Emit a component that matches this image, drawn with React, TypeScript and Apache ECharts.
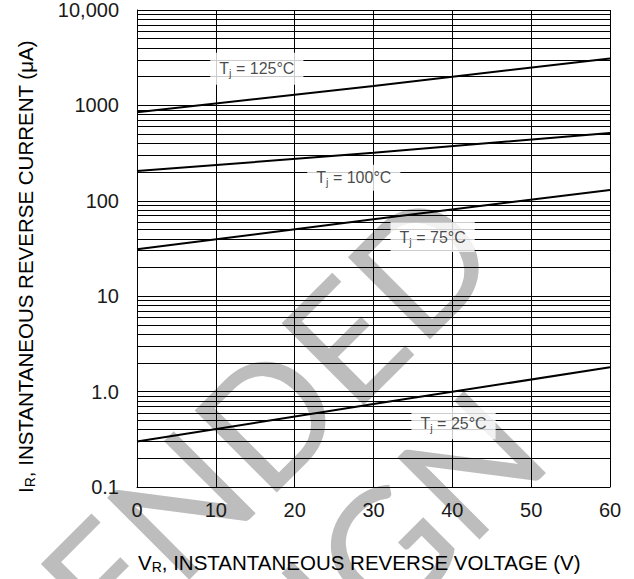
import React, { useEffect, useRef } from 'react';
import * as echarts from 'echarts';

// Reverse voltage (V) sample points
const xValues = [0, 30, 60];
// Instantaneous reverse current (µA) per junction temperature
const tj125 = [850, 1600, 3100];
const tj100 = [205, 318, 515];
const tj75 = [31, 64, 130];
const tj25 = [0.3, 0.74, 1.8];

const yTickLabels = ['0.1', '1.0', '10', '100', '1000', '10,000'];

const minorGridValues = [
  0.2, 0.3, 0.4, 0.5, 0.6, 0.7, 0.8, 0.9,
  2, 3, 4, 5, 6, 7, 8, 9,
  20, 30, 40, 50, 60, 70, 80, 90,
  200, 300, 400, 500, 600, 700, 800, 900,
  2000, 3000, 4000, 5000, 6000, 7000, 8000, 9000,
];

const curveLabelNames = ['125°C', '100°C', '75°C', '25°C'];
const curveLabelX = [15.2, 27.5, 37.5, 40.15];
const curveLabelY = [2420, 174, 41.7, 0.466];

export default function App() {
  const ref = useRef<HTMLDivElement>(null);

  useEffect(() => {
    document.body.style.margin = '0';
    const chart = echarts.init(ref.current!, null, { renderer: 'svg' });
    const font = "'Liberation Sans', Arial, Helvetica, sans-serif";
    const txt = '#1a1a1a';
    const mk = (vals: number[]) => xValues.map((x, i) => [x, vals[i]]);
    const lineSeries = (name: string, vals: number[], extra: any = {}) => ({
      type: 'line',
      name,
      data: mk(vals),
      symbol: 'none',
      showSymbol: false,
      silent: true,
      z: 3,
      lineStyle: { color: '#000', width: 2 },
      ...extra,
    });
    const labelPads = [
      [6, 9],
      [3, 9],
      [5, 9],
      [6, 9],
    ];

    const titleRich = {
      m: { fontFamily: font, fontSize: 20.5, color: txt, lineHeight: 24 },
      s: { fontFamily: font, fontSize: 14, color: txt, verticalAlign: 'bottom', lineHeight: 14 },
    };

    const wmStyle = {
      fontSize: 162,
      fontFamily: "Lato, 'Liberation Sans', sans-serif",
      fontWeight: 400,
      fill: '#bdbdbd',
      align: 'right',
      textAlign: 'right',
      verticalAlign: 'middle',
      textVerticalAlign: 'middle',
    };

    const option: any = {
      animation: false,
      backgroundColor: '#fff',
      grid: { left: 137, right: 24, top: 8, bottom: 92 },
      xAxis: {
        type: 'value',
        min: 0,
        max: 60,
        interval: 10,
        axisLine: { show: true, lineStyle: { color: '#000', width: 1 } },
        axisTick: { show: false },
        splitLine: { show: true, lineStyle: { color: '#000', width: 1 } },
        axisLabel: { fontFamily: font, fontSize: 20, color: txt, margin: 13 },
      },
      yAxis: {
        type: 'log',
        logBase: 10,
        min: 0.1,
        max: 10000,
        axisLine: { show: true, lineStyle: { color: '#000', width: 1 } },
        axisTick: { show: false },
        splitLine: { show: true, lineStyle: { color: '#000', width: 1 } },
        axisLabel: {
          fontFamily: font,
          fontSize: 20,
          color: txt,
          margin: 18,
          padding: [8, 0, 0, 0],
          formatter: (v: number) => yTickLabels[Math.round(Math.log10(v)) + 1] ?? '',
        },
      },
      graphic: [
        {
          type: 'text',
          z: -1,
          x: 462,
          y: 218,
          rotation: Math.PI / 4,
          silent: true,
          style: { ...wmStyle, text: 'NOT RECOMMENDED' },
        },
        {
          type: 'text',
          z: -1,
          x: 512,
          y: 418,
          rotation: Math.PI / 4,
          silent: true,
          style: { ...wmStyle, text: 'FOR NEW DESIGN' },
        },
        {
          type: 'text',
          z: 20,
          x: 138,
          y: 562,
          style: {
            text: '{m|V}{s|R}{m|, INSTANTANEOUS REVERSE VOLTAGE (V)}',
            rich: titleRich,
            fontFamily: font,
            fontSize: 20.5,
            align: 'left',
            textAlign: 'left',
            verticalAlign: 'middle',
            textVerticalAlign: 'middle',
          },
        },
        {
          type: 'text',
          z: 20,
          x: 25,
          y: 493,
          rotation: Math.PI / 2,
          style: {
            text: '{m|I}{s|R}{m|, INSTANTANEOUS REVERSE CURRENT (μA)}',
            rich: titleRich,
            fontFamily: font,
            fontSize: 20.5,
            align: 'left',
            textAlign: 'left',
            verticalAlign: 'middle',
            textVerticalAlign: 'middle',
          },
        },
      ],
      series: [
        lineSeries('Tj = 25°C', tj25, {
          markLine: {
            silent: true,
            animation: false,
            symbol: ['none', 'none'],
            label: { show: false },
            lineStyle: { color: '#000', width: 1, type: 'solid' },
            emphasis: { disabled: true },
            data: minorGridValues.map((v) => ({ yAxis: v })),
          },
        }),
        lineSeries('Tj = 75°C', tj75),
        lineSeries('Tj = 100°C', tj100),
        lineSeries('Tj = 125°C', tj125),
        {
          type: 'scatter',
          silent: true,
          z: 10,
          symbolSize: 1,
          itemStyle: { color: 'rgba(0,0,0,0)' },
          data: curveLabelNames.map((n, i) => ({
            name: n,
            value: [curveLabelX[i], curveLabelY[i]],
            label: { padding: labelPads[i] },
          })),
          label: {
            show: true,
            position: 'inside',
            backgroundColor: '#fff',
            formatter: (p: any) => `{m|T}{s|j}{m| = ${p.name}}`,
            rich: {
              m: { fontFamily: font, fontSize: 16, color: txt, lineHeight: 20 },
              s: { fontFamily: font, fontSize: 11, color: txt, verticalAlign: 'bottom', lineHeight: 12 },
            },
          },
        },
      ],
    };

    chart.setOption(option);
    return () => chart.dispose();
  }, []);

  return <div ref={ref} style={{ width: 634, height: 579 }} />;
}
